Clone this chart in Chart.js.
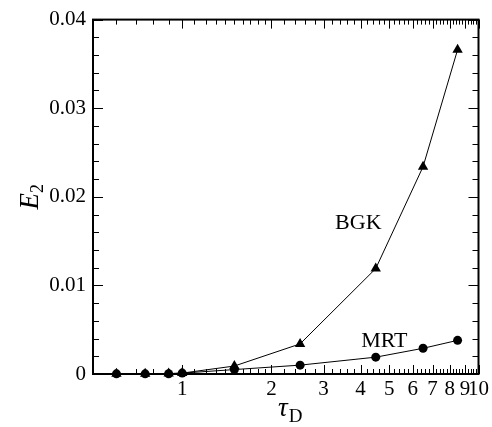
<!DOCTYPE html>
<html>
<head>
<meta charset="utf-8">
<script src="https://cdn.jsdelivr.net/npm/chart.js@4/dist/chart.umd.min.js"></script>
<style>
  html, body { margin: 0; padding: 0; background: #fff; }
</style>
</head>
<body>
<canvas id="chart" width="492" height="427"></canvas>
<script>
// values
var tauD = [0.6, 0.75, 0.9, 1.0, 1.5, 2.5, 4.5, 6.5, 8.5];
var bgk = [0.00003, 0.00003, 0.00005, 0.0001, 0.0009, 0.0034, 0.0119, 0.0234, 0.0366];
var mrt = [0.00002, 0.00002, 0.00003, 0.0001, 0.0005, 0.0010, 0.0019, 0.0029, 0.0038];
var seriesNames = ['BGK', 'MRT'];
var seriesLabelPos = [[3.93, 0.0170], [4.81, 0.00367]];
var xTickLabels = ['1', '2', '3', '4', '5', '6', '7', '8', '9', '10'];
var yTickLabels = ['0', '0.01', '0.02', '0.03', '0.04'];
var xTitle = ['\u03c4', 'D'];
var yTitle = ['E', '2'];

var serif = "'Liberation Serif', 'DejaVu Serif', serif";

// minor tick positions (0.1 steps up to 2, 0.2 steps after)
var xTicks = [];
for (var k = 5; k < 20; k++) xTicks.push(k / 10);
for (var k = 10; k <= 50; k++) xTicks.push(k / 5);
var yTicks = [];
for (var j = 0; j <= 20; j++) yTicks.push(j / 500);

function isMajorX(v) { return v >= 1 && Math.abs(v - Math.round(v)) < 1e-9; }
function isMajorY(v) { return Math.abs(v * 100 - Math.round(v * 100)) < 1e-9; }

var framePlugin = {
  id: 'frame',
  beforeDatasetsDraw: function(chart) {
    var ctx = chart.ctx, a = chart.chartArea;
    var xs = chart.scales.x, ys = chart.scales.y;
    ctx.save();
    ctx.strokeStyle = '#000';
    ctx.lineWidth = 1;
    ctx.beginPath();
    xTicks.forEach(function(v) {
      var p = Math.round(xs.getPixelForValue(v)) + 0.5;
      var len = isMajorX(v) ? 9 : 5;
      ctx.moveTo(p, a.bottom); ctx.lineTo(p, a.bottom - len);
      ctx.moveTo(p, a.top); ctx.lineTo(p, a.top + len);
    });
    yTicks.forEach(function(v) {
      var p = Math.round(ys.getPixelForValue(v)) + 0.5;
      var len = isMajorY(v) ? 10 : 6;
      ctx.moveTo(a.left, p); ctx.lineTo(a.left + len, p);
      ctx.moveTo(a.right, p); ctx.lineTo(a.right - len, p);
    });
    ctx.stroke();
    ctx.lineWidth = 2;
    ctx.strokeRect(a.left, a.top, a.right - a.left, a.bottom - a.top);
    ctx.restore();
  },
  afterDraw: function(chart) {
    var ctx = chart.ctx, a = chart.chartArea;
    var xs = chart.scales.x, ys = chart.scales.y;
    ctx.save();
    ctx.fillStyle = '#000';

    // series names
    ctx.font = '22px ' + serif;
    ctx.textAlign = 'center';
    ctx.textBaseline = 'middle';
    seriesNames.forEach(function(name, i) {
      var pos = seriesLabelPos[i];
      ctx.fillText(name, xs.getPixelForValue(pos[0]), ys.getPixelForValue(pos[1]));
    });

    // x title: tau with subscript D
    ctx.textBaseline = 'alphabetic';
    ctx.textAlign = 'left';
    ctx.font = 'italic 27px ' + serif;
    var w1 = ctx.measureText(xTitle[0]).width;
    ctx.font = '19px ' + serif;
    var w2 = ctx.measureText(xTitle[1]).width;
    var cx = (a.left + a.right) / 2 + 4;
    var x0 = cx - (w1 + w2) / 2;
    ctx.font = 'italic 27px ' + serif;
    ctx.fillText(xTitle[0], x0, 416);
    ctx.font = '19px ' + serif;
    ctx.fillText(xTitle[1], x0 + w1 + 1, 422);

    // y title: E with subscript 2, rotated
    ctx.translate(38, (a.top + a.bottom) / 2);
    ctx.rotate(-Math.PI / 2);
    ctx.font = 'italic 27px ' + serif;
    var e1 = ctx.measureText(yTitle[0]).width;
    ctx.font = '18px ' + serif;
    var e2 = ctx.measureText(yTitle[1]).width;
    var y0 = -(e1 + e2) / 2;
    ctx.font = 'italic 27px ' + serif;
    ctx.fillText(yTitle[0], y0, 0);
    ctx.font = '18px ' + serif;
    ctx.fillText(yTitle[1], y0 + e1, 5);
    ctx.restore();
  }
};

var toPoints = function(ys) {
  return tauD.map(function(t, i) { return { x: t, y: ys[i] }; });
};

new Chart(document.getElementById('chart'), {
  type: 'line',
  data: {
    datasets: [{
      label: seriesNames[0],
      data: toPoints(bgk),
      borderColor: '#000',
      backgroundColor: '#000',
      borderWidth: 1,
      pointStyle: 'triangle',
      pointRadius: 6,
      pointBorderWidth: 0,
      tension: 0,
      clip: false
    }, {
      label: seriesNames[1],
      data: toPoints(mrt),
      borderColor: '#000',
      backgroundColor: '#000',
      borderWidth: 1,
      pointStyle: 'circle',
      pointRadius: 4.5,
      pointBorderWidth: 0,
      tension: 0,
      clip: false
    }]
  },
  options: {
    responsive: false,
    animation: false,
    devicePixelRatio: 1,
    layout: { padding: { top: 14, right: 13, left: 0, bottom: 0 } },
    plugins: { legend: { display: false }, tooltip: { enabled: false } },
    scales: {
      x: {
        type: 'logarithmic',
        min: 0.5,
        max: 10,
        afterBuildTicks: function(s) {
          s.ticks = xTicks.map(function(v) { return { value: v }; });
        },
        afterFit: function(s) { s.height = 53; },
        grid: { display: false, drawTicks: false },
        border: { display: false },
        ticks: {
          autoSkip: false,
          maxRotation: 0,
          minRotation: 0,
          padding: 3,
          color: '#000',
          font: { family: serif, size: 21 },
          callback: function(v) {
            return isMajorX(v) ? xTickLabels[Math.round(v) - 1] : '';
          }
        }
      },
      y: {
        min: 0,
        max: 0.04,
        afterBuildTicks: function(s) {
          s.ticks = yTicks.map(function(v) { return { value: v }; });
        },
        afterFit: function(s) { s.width = 93; },
        grid: { display: false, drawTicks: false },
        border: { display: false },
        ticks: {
          autoSkip: false,
          padding: 7,
          color: '#000',
          font: { family: serif, size: 21 },
          callback: function(v) {
            return isMajorY(v) ? yTickLabels[Math.round(v * 100)] : '';
          }
        }
      }
    }
  },
  plugins: [framePlugin]
});
</script>
</body>
</html>
